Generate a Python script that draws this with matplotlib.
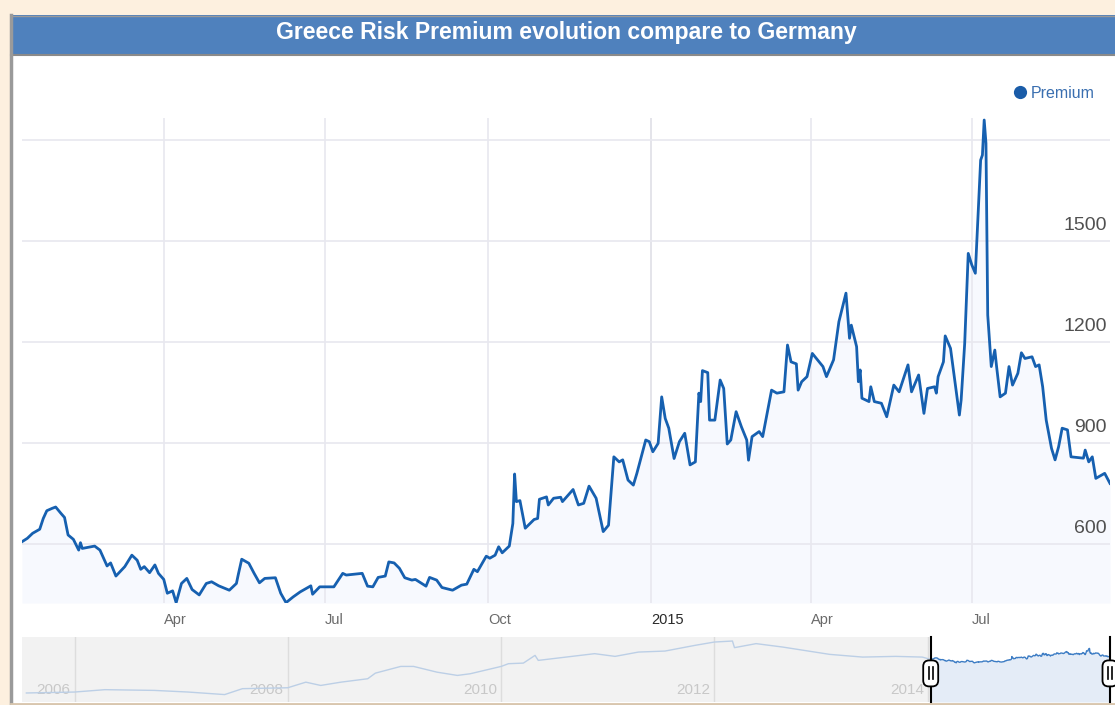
import numpy as np
import pandas as pd
import matplotlib
matplotlib.use("Agg")
import matplotlib.pyplot as plt
import matplotlib.dates as mdates
import matplotlib.transforms as mtransforms
from matplotlib.patches import Rectangle, FancyBboxPatch
from matplotlib.lines import Line2D

plt.rcParams['font.family'] = ['Liberation Sans', 'DejaVu Sans']

# Greece 10y spread vs Germany (bp); day offsets from 2014-01-01
day_offset = [
    10, 13, 16, 20, 22, 24, 27, 29, 32, 34,
    36, 39, 42, 43, 44, 47, 51, 54, 58, 60,
    63, 68, 72, 75, 77, 79, 82, 85, 87, 90,
    92, 95, 97, 100, 103, 106, 110, 114, 117, 121,
    127, 131, 132, 134, 138, 141, 144, 147, 153, 156,
    159, 163, 167, 173, 174, 178, 186, 191, 193, 202,
    205, 208, 211, 215, 217, 220, 223, 226, 230, 232,
    238, 240, 244, 247, 253, 258, 261, 265, 267, 272,
    274, 277, 279, 281, 285, 287, 288, 289, 291, 294,
    299, 301, 302, 306, 307, 310, 314, 315, 321, 324,
    327, 330, 334, 338, 341, 344, 347, 349, 352, 355,
    357, 362, 364, 366, 369, 371, 373, 375, 378, 381,
    384, 387, 390, 392, 393, 394, 397, 398, 401, 404,
    406, 408, 410, 413, 416, 419, 420, 422, 426, 428,
    433, 436, 440, 442, 444, 447, 448, 450, 453, 456,
    462, 464, 468, 471, 475, 477, 478, 481, 482, 483,
    484, 488, 489, 491, 495, 498, 502, 505, 510, 512,
    516, 519, 521, 525, 526, 527, 530, 531, 534, 539,
    540, 542, 544, 546, 548, 551, 552, 553, 554, 555,
    557, 559, 560, 562, 565, 567, 569, 572, 574, 576,
    580, 582, 584, 586, 588, 591, 593, 595, 597, 600,
    602, 609, 610, 612, 614, 616, 621, 624,
]
premium = [
    607, 617, 632, 644, 676, 699, 706, 710, 691, 679,
    627, 614, 582, 604, 587, 590, 594, 582, 535, 544,
    505, 533, 567, 552, 525, 533, 515, 538, 513, 495,
    454, 461, 426, 483, 498, 465, 449, 483, 488, 476,
    463, 483, 508, 555, 543, 513, 485, 498, 500, 454,
    426, 443, 458, 476, 451, 473, 473, 513, 508, 513,
    475, 473, 501, 505, 547, 544, 528, 500, 493, 495,
    475, 501, 493, 471, 463, 478, 481, 525, 518, 564,
    558, 567, 592, 574, 594, 661, 808, 726, 729, 647,
    673, 676, 733, 740, 716, 736, 739, 726, 762, 716,
    721, 772, 736, 637, 656, 859, 844, 850, 790, 775,
    810, 909, 904, 874, 899, 1037, 973, 944, 854, 904,
    929, 835, 844, 1048, 1023, 1115, 1109, 968, 968, 1087,
    1062, 897, 909, 993, 948, 909, 849, 919, 934, 919,
    1057, 1048, 1052, 1191, 1141, 1135, 1057, 1082, 1097, 1166,
    1127, 1097, 1147, 1260, 1345, 1211, 1250, 1186, 1082, 1117,
    1033, 1023, 1067, 1023, 1018, 978, 1072, 1052, 1132, 1052,
    1102, 988, 1062, 1067, 1048, 1097, 1141, 1218, 1181, 983,
    1028, 1196, 1463, 1429, 1404, 1740, 1755, 1859, 1790, 1280,
    1127, 1176, 1127, 1037, 1048, 1127, 1072, 1107, 1168, 1151,
    1156, 1127, 1132, 1067, 968, 884, 850, 889, 944, 939,
    859, 855, 879, 844, 859, 795, 810, 780,
]

# long history shown in the navigator strip (log scale)
nav_dates = ['2005-07-20', '2006-01-01', '2006-04-15', '2006-10-01', '2007-01-25',
             '2007-05-30', '2007-07-30', '2008-01-01', '2008-03-03', '2008-04-23',
             '2008-07-01', '2008-10-01', '2008-10-27', '2009-01-22', '2009-03-07',
             '2009-05-26', '2009-08-04', '2009-09-17', '2010-01-01', '2010-01-26',
             '2010-03-18', '2010-04-27', '2010-05-08', '2010-11-17', '2011-01-26',
             '2011-04-16', '2011-07-16', '2011-10-27', '2012-01-01', '2012-03-03',
             '2012-03-10', '2012-05-23', '2012-08-22', '2013-01-30', '2013-05-23',
             '2013-09-13', '2013-12-13']
nav_values = [20, 22, 28, 26, 22, 17, 31, 34, 60, 43,
              60, 85, 150, 297, 297, 166, 119, 141, 297, 392,
              416, 912, 548, 1085, 824, 1277, 1414, 2527, 3535, 3917,
              1999, 3007, 2125, 1010, 767, 824, 767]

main_ticks = ['2014-04-01', '2014-07-01', '2014-10-01', '2015-01-01', '2015-04-01', '2015-07-01']
main_tick_labels = ['Apr', 'Jul', 'Oct', '2015', 'Apr', 'Jul']
y_grid = [600, 900, 1200, 1500, 1800]
y_labels = [600, 900, 1200, 1500]
nav_years = ['2006', '2008', '2010', '2012', '2014']

dates = pd.Timestamp('2014-01-01') + pd.to_timedelta(day_offset, unit='D')

W, H = 1115, 705


def box(x0, y0, x1, y1):
    return [x0 / W, 1 - y1 / H, (x1 - x0) / W, (y1 - y0) / H]


fig = plt.figure(figsize=(W / 100, H / 100), dpi=100, facecolor='#fdf0df')

# page / frame decorations in pixel coordinates
bg = fig.add_axes([0, 0, 1, 1], zorder=0)
bg.set_xlim(0, W)
bg.set_ylim(H, 0)
bg.axis('off')
bg.add_patch(Rectangle((11, 15), W - 11, 688, fc='white', ec='none'))
bg.add_patch(Rectangle((11, 15), W - 11, 39, fc='#4f81bd', ec='none'))
bg.plot([11, W], [15.5, 15.5], color='#9a9a9a', lw=1)
bg.plot([11, W], [54.5, 54.5], color='#8a8a8a', lw=1.5)
bg.plot([10.5, 10.5], [15, 703], color='#9a9a9a', lw=2.5)
bg.plot([11, W], [703.5, 703.5], color='#d8c6ae', lw=2)
bg.text(566, 33, 'Greece Risk Premium evolution compare to Germany', color='white',
        fontsize=16.6, fontweight='bold', ha='center', va='center')
bg.plot([1020], [92], marker='o', ms=9.5, color='#1a5ca8', mec='none')
bg.text(1031, 93, 'Premium', color='#3a6fb0', fontsize=11.5, ha='left', va='center')

# main chart
ax = fig.add_axes(box(22, 118, 1110, 603), zorder=2)
ax.patch.set_alpha(0)
ymin, ymax = 425, 1865
ax.fill_between(dates, premium, ymin, color='#f7f9fe', lw=0, zorder=1)
ax.plot(dates, premium, color='#1660b0', lw=2.0, zorder=3, solid_joinstyle='round')
ax.set_xlim(dates[0], dates[-1])
ax.set_ylim(ymin, ymax)
for s in ax.spines.values():
    s.set_visible(False)

tick_dates = pd.to_datetime(main_ticks)
ax.set_xticks(tick_dates)
ax.set_xticklabels(main_tick_labels)
ax.set_yticks(y_grid)
ax.set_yticklabels([])
ax.tick_params(length=0, pad=7)
ax.tick_params(axis='x', labelsize=10.5, labelcolor='#6a6a6a')
for lab in ax.get_xticklabels():
    lab.set_horizontalalignment('left')
    if lab.get_text() == '2015':
        lab.set_color('#2a2a2a')
ax.grid(True, color='#e8e8ef', lw=1.2, zorder=0)
ax.axvline(pd.Timestamp('2015-01-01'), color='#cfcfcf', lw=1.3, zorder=0)

ylab_trans = mtransforms.blended_transform_factory(ax.transAxes, ax.transData)
for v in y_labels:
    ax.annotate(str(v), xy=(1.0, v), xycoords=ylab_trans, xytext=(-3, 7),
                textcoords='offset pixels', ha='right', va='bottom',
                fontsize=14, color='#505050')

# navigator strip
nav = fig.add_axes(box(22, 637, 1110, 702), zorder=2)
nav.set_facecolor('#f2f2f2')
nav.set_yscale('log')
nav.set_ylim(8, 5900)
nav_d = pd.to_datetime(nav_dates)
nav.set_xlim(nav_d[0] - pd.Timedelta(days=15), dates[-1])
for s in nav.spines.values():
    s.set_visible(False)
nav.set_xticks([])
nav.set_yticks([])
nav.minorticks_off()

nav.axvspan(dates[0], dates[-1], color='white', lw=0, zorder=0)
nav.fill_between(dates, premium, 8, color='#e4ecf7', lw=0, zorder=1)
hist_d = list(nav_d) + [dates[0]]
hist_v = nav_values + [premium[0]]
nav.plot(hist_d, hist_v, color='#bccfe6', lw=1.0, zorder=2)
nav.plot(dates, premium, color='#3c7cc4', lw=1.0, zorder=2)

x0n, x1n = nav.get_xlim()


def nav_frac(t):
    return (float(mdates.date2num(t)) - x0n) / (x1n - x0n)


for yr in nav_years:
    t = pd.Timestamp(yr + '-01-01')
    nav.axvline(t, color='#dddddd', lw=1, zorder=0.5)
    nav.annotate(yr, xy=(nav_frac(t), 0.18), xycoords='axes fraction', xytext=(-4, 0),
                 textcoords='offset pixels', ha='right', va='center',
                 fontsize=11, color='#c8c8c8', zorder=1.5)

# selection handles
for t in [dates[0], dates[-1]]:
    nav.axvline(t, color='black', lw=1.5, zorder=4, clip_on=False)
    trans = mtransforms.Affine2D() + mtransforms.ScaledTranslation(nav_frac(t), 0.44, nav.transAxes)
    nav.add_patch(FancyBboxPatch((-7.5, -13), 15, 26,
                                 boxstyle='round,pad=0,rounding_size=6',
                                 transform=trans, fc='white', ec='black', lw=1.3,
                                 zorder=5, clip_on=False))
    for dx in (-2, 2):
        nav.add_line(Line2D([dx, dx], [-6, 6], transform=trans, color='black',
                            lw=1.2, zorder=6, clip_on=False))

fig.savefig('out.png', dpi=100, facecolor=fig.get_facecolor())
